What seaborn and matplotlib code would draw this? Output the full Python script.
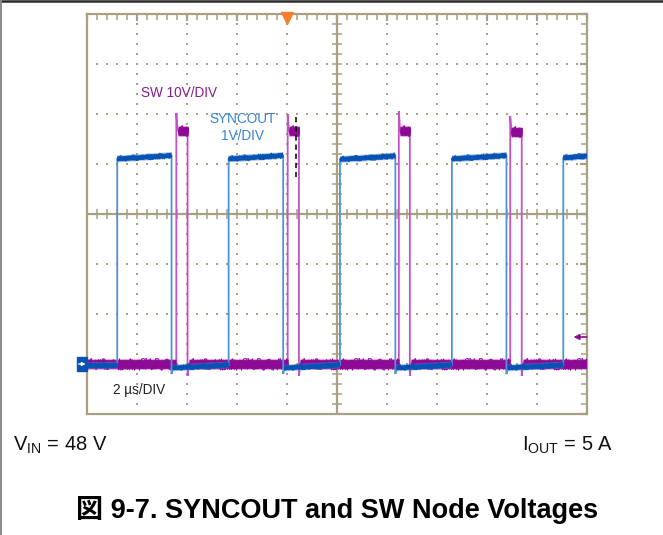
import numpy as np
import pandas as pd
import matplotlib
matplotlib.use("Agg")
import matplotlib.pyplot as plt
import seaborn as sns
from matplotlib.lines import Line2D
from matplotlib.patches import Rectangle

# ---- waveform data (time in µs, amplitudes in volts) ----
sync_rise_us = [1.22, 5.67, 10.12, 14.59, 19.04]
sync_fall_us = [3.39, 7.85, 12.33, 16.77]
sync_high_start_v = [4.10, 4.10, 4.09, 4.10, 4.12]
sync_high_end_v = [4.17, 4.17, 4.16, 4.17, 4.16]
sync_low_start_v = -0.08
sync_low_end_v = -0.02
sync_undershoot_v = -0.20

sw_rise_us = [3.58, 8.03, 12.47, 16.92]
sw_fall_us = [4.03, 8.48, 12.91, 17.38]
sw_peak_v = [50.2, 50.0, 50.6, 49.6]
sw_high_v = [46.7, 46.6, 46.7, 46.4]
sw_low_v = 0.0
sw_undershoot_v = -2.4

# ---- scope settings ----
time_span_us = 20.0          # 10 div x 2 µs/div
sw_volts_per_div = 10.0
sync_volts_per_div = 1.0
ground_div = -3.0
trigger_time_us = 8.0
trigger_level_v = 5.4        # SW trigger level
cursor_time_us = 8.37
cursor_v = [49.4, 37.4]      # SW-scale span of the dashed cursor

# ---- colours ----
grid_c = "#a9a083"
sw_dark, sw_edge = "#8c0a94", "#c253c9"
sync_dark, sync_edge = "#0752b3", "#4f93d8"

EDGE = 0.05  # settling time after an edge, µs


def sw_waveform():
    t, v = [0.0], [sw_low_v]
    for r, f, pk, hi in zip(sw_rise_us, sw_fall_us, sw_peak_v, sw_high_v):
        t += [r, r, r + EDGE, f, f, f + EDGE]
        v += [sw_low_v, pk, hi, hi, sw_undershoot_v, sw_low_v]
    t.append(time_span_us)
    v.append(sw_low_v)
    return t, v


def sw_plateaus():
    segs = []
    starts = [0.0] + [f + EDGE for f in sw_fall_us]
    ends = sw_rise_us + [time_span_us]
    for a, b in zip(starts, ends):
        segs.append(([a, b], [sw_low_v, sw_low_v]))
    for r, f, hi in zip(sw_rise_us, sw_fall_us, sw_high_v):
        segs.append(([r + EDGE, f], [hi, hi]))
    return segs


def sync_waveform():
    t, v = [0.0], [sync_low_end_v]
    falls = sync_fall_us + [None]
    for i, r in enumerate(sync_rise_us):
        t += [r, r]
        v += [v[-1], sync_high_start_v[i]]
        f = falls[i]
        if f is None:
            t.append(time_span_us)
            v.append(sync_high_end_v[i])
        else:
            t += [f, f, f + EDGE]
            v += [sync_high_end_v[i], sync_undershoot_v, sync_low_start_v]
            t.append(sync_rise_us[i + 1])
            v.append(sync_low_end_v)
    return t, v


def sync_plateaus():
    segs = [([0.0, sync_rise_us[0]], [sync_low_end_v, sync_low_end_v])]
    for i, r in enumerate(sync_rise_us):
        end = sync_fall_us[i] if i < len(sync_fall_us) else time_span_us
        segs.append(([r, end], [sync_high_start_v[i], sync_high_end_v[i]]))
    for i, f in enumerate(sync_fall_us):
        segs.append(([f + EDGE, sync_rise_us[i + 1]], [sync_low_start_v, sync_low_end_v]))
    return segs


def to_frame(segs, vpd):
    rows = []
    for k, (ts, vs) in enumerate(segs):
        for a, b in zip(ts, vs):
            rows.append({"t": a, "div": b / vpd + ground_div, "seg": k})
    return pd.DataFrame(rows)


sns.set_style("white")
plt.rcParams["font.family"] = ["Liberation Sans", "Noto Sans CJK JP", "DejaVu Sans"]
plt.rcParams["mathtext.fontset"] = "custom"
plt.rcParams["mathtext.rm"] = "Liberation Sans"
plt.rcParams["mathtext.it"] = "Liberation Sans:italic"
plt.rcParams["mathtext.bf"] = "Liberation Sans:bold"

fig = plt.figure(figsize=(6.63, 5.35), dpi=100)
W, H = 663, 535
x0, x1, y0, y1 = 86.7, 587.3, 14, 414
ax = fig.add_axes([x0 / W, 1 - y1 / H, (x1 - x0) / W, (y1 - y0) / H])
ax.set_xlim(0, time_span_us)
ax.set_ylim(-4, 4)

# ---- graticule ----
for s in ax.spines.values():
    s.set_color(grid_c)
    s.set_linewidth(1.6)
ax.set_xticks(np.arange(0, 20.01, 2))
ax.set_yticks(np.arange(-4, 4.01, 1))
ax.set_xticks(np.arange(0, 20.01, 0.4), minor=True)
ax.set_yticks(np.arange(-4, 4.01, 0.2), minor=True)
ax.tick_params(which="both", direction="in", top=True, right=True,
               labelbottom=False, labelleft=False, color=grid_c)
ax.tick_params(which="major", length=5, width=1.6)
ax.tick_params(which="minor", length=4, width=1.1)
ax.grid(False)

minor_x = np.arange(0.4, 19.7, 0.4)
minor_y = np.arange(-3.8, 3.9, 0.2)
ax.axhline(0, color=grid_c, lw=1.6, zorder=1)
ax.axvline(10, color=grid_c, lw=1.6, zorder=1)
ax.plot(minor_x, np.zeros_like(minor_x), ls="", marker="|", ms=7, mew=1.1,
        color=grid_c, zorder=1)
ax.plot(np.full_like(minor_y, 10), minor_y, ls="", marker="_", ms=7, mew=1.1,
        color=grid_c, zorder=1)
dots_x, dots_y = [], []
for gx in [2, 4, 6, 8, 12, 14, 16, 18]:
    dots_x += [gx] * len(minor_y)
    dots_y += list(minor_y)
for gy in [-3, -2, -1, 1, 2, 3]:
    dots_x += list(minor_x)
    dots_y += [gy] * len(minor_x)
ax.scatter(dots_x, dots_y, s=1.3, marker="s", color=grid_c, lw=0, zorder=1)

# ---- traces ----
sw_t, sw_v = sw_waveform()
sy_t, sy_v = sync_waveform()
sw_thin = to_frame([(sw_t, sw_v)], sw_volts_per_div)
sy_thin = to_frame([(sy_t, sy_v)], sync_volts_per_div)
sw_thick = to_frame(sw_plateaus(), sw_volts_per_div)
sy_thick = to_frame(sync_plateaus(), sync_volts_per_div)


def draw(df, color, lw, sketch=None, z=3, alpha=1.0):
    n = len(ax.lines)
    sns.lineplot(data=df, x="t", y="div", units="seg", estimator=None,
                 sort=False, color=color, lw=lw, ax=ax, legend=False, alpha=alpha)
    for ln in ax.lines[n:]:
        ln.set_zorder(z)
        ln.set_solid_capstyle("butt")
        ln.set_solid_joinstyle("miter")
        if sketch:
            ln.set_sketch_params(*sketch)


def noisy_band(df, dark, light, core_lw, amp, z):
    # soft halo, solid core, then several jittered strokes for the noise fringe
    draw(df, light, core_lw + 1.6, z=z, alpha=0.5)
    draw(df, dark, core_lw, z=z + 0.01)
    for k, length in enumerate([0.7, 1.3, 1.9, 2.6]):
        draw(df, dark, 0.7, sketch=(amp * (1 - 0.15 * k), length, 1.6), z=z + 0.02)


draw(sw_thin, sw_edge, 1.3, z=3)
noisy_band(sw_thick, sw_dark, sw_edge, 6.3, 6.0, z=3.05)
draw(sy_thin, sync_edge, 1.3, z=3.2)
noisy_band(sy_thick, sync_dark, sync_edge, 3.3, 3.2, z=3.25)
ax.set_xlabel("")
ax.set_ylabel("")

# dashed cursor
ax.plot([cursor_time_us, cursor_time_us],
        [c / sw_volts_per_div + ground_div for c in cursor_v],
        color="black", lw=1.1, ls=(0, (3.5, 2.5)), zorder=4)

# trigger position marker (top)
ax.plot([trigger_time_us], [3.93], marker="v", ms=8, color="#f5822a",
        mec="#f5822a", clip_on=False, zorder=5)

# trigger level marker (right)
tl = trigger_level_v / sw_volts_per_div + ground_div
ax.annotate("", xy=(19.45, tl), xytext=(19.97, tl),
            arrowprops=dict(arrowstyle="-|>", color=sw_dark, lw=1.2,
                            mutation_scale=8, shrinkA=0, shrinkB=0), zorder=5)

# ground reference marker (left, outside the graticule)
gy_ax = (ground_div + 4) / 8
ax.add_patch(Rectangle((-0.019, gy_ax - 0.017), 0.019, 0.034, transform=ax.transAxes,
                       color=sync_dark, clip_on=False, zorder=5))
ax.annotate("", xy=(-0.002, gy_ax), xytext=(-0.016, gy_ax), xycoords="axes fraction",
            arrowprops=dict(arrowstyle="-|>", color="white", lw=1.0,
                            mutation_scale=5, shrinkA=0, shrinkB=0), zorder=6)

# ---- channel labels ----
ax.text(2.16, 2.42, "SW 10V/DIV", color="#8a1c8c", fontsize=9.8,
        ha="left", va="center", zorder=6)
ax.text(6.23, 1.90, "SYNCOUT", color="#3583d2", fontsize=9.8,
        ha="center", va="center", zorder=6)
ax.text(6.23, 1.57, "1V/DIV", color="#3583d2", fontsize=9.8,
        ha="center", va="center", zorder=6)
ax.text(1.05, -3.53, "2 µs/DIV", color="#222222", fontsize=9.8,
        ha="left", va="center", zorder=6)

# ---- conditions and caption ----
fig.text(13 / W, 1 - 451 / H, r"$\mathrm{V_{IN}}$ = 48 V", fontsize=14.5,
         ha="left", va="baseline", color="#111111")
fig.text(613 / W, 1 - 451 / H, r"$\mathrm{I_{OUT}}$ = 5 A", fontsize=14.5,
         ha="right", va="baseline", color="#111111")
fig.text(337.5 / W, 1 - 510 / H, "図 9-7. SYNCOUT and SW Node Voltages",
         fontsize=19.5, fontweight="bold", ha="center", va="center", color="black")

# page frame
fig.add_artist(Line2D([0, 1], [1 - 1.2 / H, 1 - 1.2 / H], color="#2b2b2b", lw=1.8))
fig.add_artist(Line2D([0.8 / W, 0.8 / W], [0, 1], color="#8a8a8a", lw=1.4))

fig.savefig("out.png", dpi=100)
